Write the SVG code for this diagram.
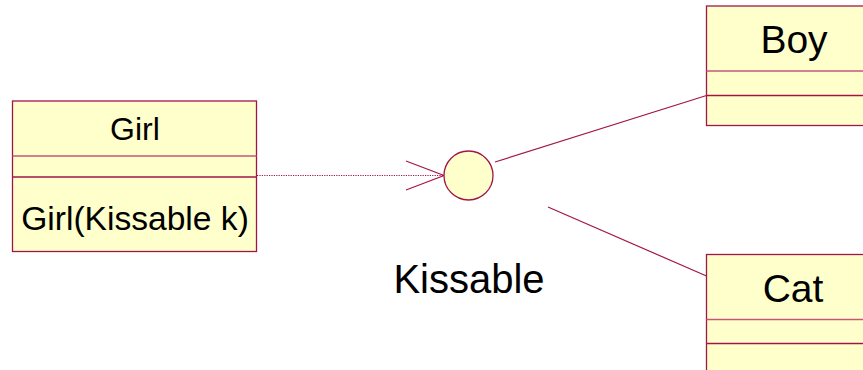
<svg xmlns="http://www.w3.org/2000/svg" width="863" height="370" viewBox="0 0 863 370">
  <style>
    .box { fill: #FFFFCC; stroke: #A3154A; stroke-width: 1.3; }
    .sep { stroke: #A3154A; stroke-width: 1.3; }
    .sep-light { stroke: #C4577A; stroke-width: 1.3; }
    .edge { fill: none; stroke: #A3154A; stroke-width: 1.2; }
    .lbl { font-family: "Liberation Sans", Arial, sans-serif; fill: #000; text-anchor: middle; }
  </style>
  <rect width="863" height="370" fill="#FFFFFF"/>

  <!-- connectors -->
  <g id="connectors">
    <!-- dependency Girl -> Kissable -->
    <line class="edge" x1="257" y1="175.5" x2="443" y2="175.5" stroke-dasharray="1.2 1.2" stroke-width="1"/>
    <polyline class="edge" points="406,161 444,175.5 406,190"/>
    <!-- realization Boy -> Kissable -->
    <line class="edge" x1="495" y1="162" x2="706.5" y2="95.5"/>
    <!-- realization Cat -> Kissable -->
    <line class="edge" x1="548" y1="207" x2="706.5" y2="276"/>
  </g>

  <!-- Girl class -->
  <g id="girl">
    <rect class="box" x="12.5" y="101" width="244" height="150.5"/>
    <line class="sep-light" x1="12.5" y1="156" x2="256.5" y2="156"/>
    <line class="sep" x1="12.5" y1="177" x2="256.5" y2="177"/>
    <text class="lbl" x="135" y="140" font-size="32">Girl</text>
    <text class="lbl" x="135" y="230" font-size="33.6">Girl(Kissable k)</text>
  </g>

  <!-- Kissable interface -->
  <g id="kissable">
    <circle cx="468.5" cy="175.5" r="24.5" fill="#FFFFCC" stroke="#A3154A" stroke-width="1.3"/>
    <text class="lbl" x="469" y="292.5" font-size="40">Kissable</text>
  </g>

  <!-- Boy class -->
  <g id="boy">
    <rect class="box" x="706.5" y="6" width="300" height="119.5"/>
    <line class="sep-light" x1="706.5" y1="71" x2="1006.5" y2="71"/>
    <line class="sep" x1="706.5" y1="95.5" x2="1006.5" y2="95.5"/>
    <text class="lbl" x="794" y="53" font-size="39">Boy</text>
  </g>

  <!-- Cat class -->
  <g id="cat">
    <rect class="box" x="706.5" y="254.5" width="300" height="140"/>
    <line class="sep-light" x1="706.5" y1="319.5" x2="1006.5" y2="319.5"/>
    <line class="sep" x1="706.5" y1="343.5" x2="1006.5" y2="343.5"/>
    <text class="lbl" x="793" y="302" font-size="39">Cat</text>
  </g>
</svg>
